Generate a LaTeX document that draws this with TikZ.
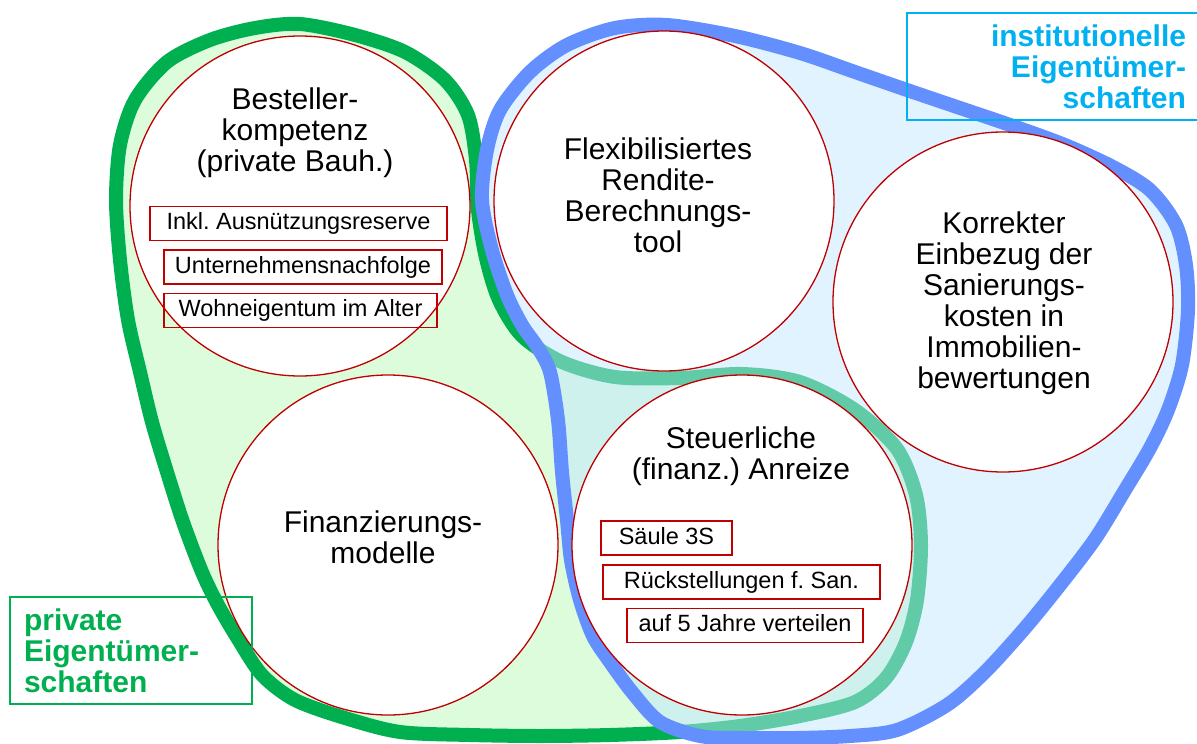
\documentclass[tikz,border=0pt]{standalone}
\usepackage{fontspec}
\setmainfont{Liberation Sans}
\frenchspacing
\usetikzlibrary{positioning}
\definecolor{privgreen}{HTML}{00B050}
\definecolor{privfill}{HTML}{DCFCDC}
\definecolor{instblue}{HTML}{6490FF}
\definecolor{instfill}{HTML}{C3E7FF}
\definecolor{instcyan}{HTML}{00B0F0}
\definecolor{topicred}{HTML}{C00000}

\begin{document}
\begin{tikzpicture}[x=1pt, y=-1pt,
  topic/.style={circle, draw=topicred, line width=1.3pt, fill=white, minimum size=340pt, inner sep=0pt},
  title/.style={align=center, inner sep=0pt, font=\fontsize{30}{31}\selectfont},
  tagbox/.style={rectangle, draw=topicred, line width=1.5pt, minimum height=34pt, inner sep=0pt, text height=17pt, text depth=5pt, font=\fontsize{23.5}{28}\selectfont},
  group/.style={rectangle, line width=1.2pt, minimum height=107pt, inner xsep=14pt, inner ysep=0pt, font=\fontsize{30}{31}\selectfont\bfseries},
  blob/.style={line width=14pt, line join=round}]

\useasboundingbox (0,0) rectangle (1197,744);

% private owners
\draw[blob, draw=privgreen, fill=privfill] plot[smooth cycle, tension=0.5] coordinates {
  (300,24) (355,35) (405,52) (445,80) (468,115) (476,160) (478,210) (486,258)
  (499,300) (522,336) (562,362) (615,377) (680,378) (742,374) (800,382) (855,410)
  (897,449) (916,495) (921,545) (917,600) (906,642) (886,678) (855,702) (800,716)
  (740,726) (680,732) (610,735) (540,736) (470,735) (400,732) (345,718) (295,700)
  (262,675) (238,639) (218,605) (202,572) (183,522) (167,472) (152,422) (140,372)
  (128,320) (120,260) (116,200) (120,145) (135,100) (167,62) (210,40) (255,28)};
% institutional owners
\draw[blob, draw=instblue, fill=instfill, fill opacity=0.5] plot[smooth cycle, tension=0.5] coordinates {
  (667,25) (735,36) (800,53) (855,72) (907,90) (960,108) (1013,126) (1065,145)
  (1113,167) (1150,190) (1176,225) (1186,265) (1188,310) (1182,365) (1168,410)
  (1150,448) (1125,490) (1095,539) (1060,585) (1025,628) (985,672) (947,705)
  (897,730) (850,736) (797,738) (740,738) (700,736) (660,722) (632,692) (610,662)
  (593,636) (580,600) (571,560) (567,520) (562,472) (558,420) (550,372) (538,348)
  (522,325) (507,295) (492,250) (482,200) (487,150) (500,110) (530,72) (567,45)
  (615,28)};

\node[topic] (best) at (300,206) {};
\node[topic] (flex) at (664,201) {};
\node[topic] (korr) at (1003,302) {};
\node[topic] (fin) at (388,545) {};
\node[topic] (steu) at (742,545) {};

\node[title] (bestT) at (295,133) {Besteller-\\kompetenz\\(private Bauh.)};
\node[title] (flexT) at (658,195.5) {Flexibilisiertes\\Rendite-\\Berechnungs-\\tool};
\node[title] (korrT) at (1004,303) {Korrekter\\Einbezug der\\Sanierungs-\\kosten in\\Immobilien-\\bewertungen};
\node[title] (finT) at (383,537.5) {Finanzierungs-\\modelle};
\node[title] (steuT) at (741,456) {Steuerliche\\(finanz.) Anreize};

\node[tagbox, minimum width=297pt] (ausn) at (298.5,223.5) {Inkl. Ausnützungsreserve};
\node[tagbox, minimum width=278pt] (nachf) at (303,267) {Unternehmensnachfolge};
\node[tagbox, minimum width=273pt] (wohn) at (300.5,310.5) {Wohneigentum im Alter};
\node[tagbox, minimum width=131pt] (saeule) at (666.5,538) {Säule 3S};
\node[tagbox, minimum width=277pt] (rueck) at (741.5,582) {Rückstellungen f. San.};
\node[tagbox, minimum width=236pt] (verteil) at (745,625.5) {auf 5 Jahre verteilen};

\node[group, draw=instcyan, text=instcyan, text width=265pt, align=right] (inst) at (1053.5,66.5) {institutionelle\\Eigentümer-\\schaften};
\node[group, draw=privgreen, text=privgreen, text width=214pt, align=left] (priv) at (131,650.5) {private\\Eigentümer-\\schaften};
\end{tikzpicture}
\end{document}
